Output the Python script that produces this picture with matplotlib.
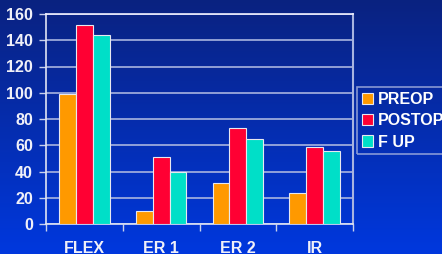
import numpy as np
import matplotlib
matplotlib.use("Agg")
from matplotlib import pyplot as plt
from matplotlib.patches import Patch

########## data ###################
categories = ['FLEX', 'ER 1', 'ER 2', 'IR']
preop = [99, 10, 31, 24]
postop = [152, 51, 73, 59]
fup = [144, 40, 65, 56]
series_names = ['PREOP', 'POSTOP', 'F UP']
colors = ['#ff9900', '#ff0033', '#00dfc8']
yticks = [0, 20, 40, 60, 80, 100, 120, 140, 160]
###################################

plt.rcParams['font.family'] = ['Liberation Sans', 'DejaVu Sans']
plt.rcParams['font.weight'] = 'bold'

W, H = 442, 254
fig = plt.figure(figsize=(W / 100, H / 100), dpi=100)

# background gradient (dark blue top -> brighter blue bottom)
bg = fig.add_axes([0, 0, 1, 1], zorder=-10)
grad = np.linspace(0, 1, 256).reshape(-1, 1)
top = np.array([10, 34, 128]) / 255
bot = np.array([0, 56, 222]) / 255
img = top + (bot - top) * grad[:, :, None]
bg.imshow(img, aspect='auto', extent=[0, 1, 0, 1], origin='upper')
bg.axis('off')

# plot area in pixels: x 46..353, y 14..224
ax = fig.add_axes([46 / W, 1 - 224 / H, (353 - 46) / W, (224 - 14) / H])
ax.patch.set_alpha(0)

x = np.arange(len(categories))
bw = 0.22
for i, (vals, c) in enumerate(zip([preop, postop, fup], colors)):
    ax.bar(x + (i - 1) * bw, vals, bw, color=c, edgecolor='#e8e8f0', linewidth=0.8, zorder=3)

ax.set_xlim(-0.5, len(categories) - 0.5)
ax.set_ylim(0, 160)
ax.set_yticks(yticks)
ax.set_yticklabels([str(v) for v in yticks], color='#f0f0f8', fontsize=11.5, fontweight='bold')
ax.set_xticks(np.arange(-0.5, len(categories), 1.0))
ax.set_xticklabels([])
ax.set_xticks(x, minor=True)
ax.set_xticklabels(categories, minor=True, color='#f0f0f8', fontsize=11.5, fontweight='bold')
ax.tick_params(axis='x', which='minor', length=0, pad=12.5)
ax.tick_params(axis='x', which='major', length=5, color='#c8d0ec', width=1)
ax.tick_params(axis='y', length=5, color='#c8d0ec', width=1, pad=4.5)

ax.grid(axis='y', color='#a8b4e0', linewidth=1.2, zorder=0)
ax.set_axisbelow(True)
for s in ['left', 'bottom']:
    ax.spines[s].set_color('#e0e4f4')
    ax.spines[s].set_linewidth(1.2)
ax.spines['right'].set_color('#a8b4e0')
ax.spines['right'].set_linewidth(1.5)
ax.spines['top'].set_color('#f0f0ff')
ax.spines['top'].set_linewidth(1.2)

handles = [Patch(facecolor=c, edgecolor='#e8e8f0', linewidth=0.8) for c in colors]
leg = fig.legend(handles, series_names, loc='upper left',
                 bbox_to_anchor=(357 / W, 1 - 87 / H), frameon=True, fancybox=False,
                 prop={'size': 11.5, 'weight': 'bold'}, labelcolor='white',
                 handlelength=0.7, handleheight=0.7, handletextpad=0.3,
                 borderpad=0.3, labelspacing=0.4, borderaxespad=0)
leg.get_frame().set_facecolor('none')
leg.get_frame().set_edgecolor('#a8b4e0')
leg.get_frame().set_linewidth(1.2)

fig.savefig('out.png', dpi=100)
